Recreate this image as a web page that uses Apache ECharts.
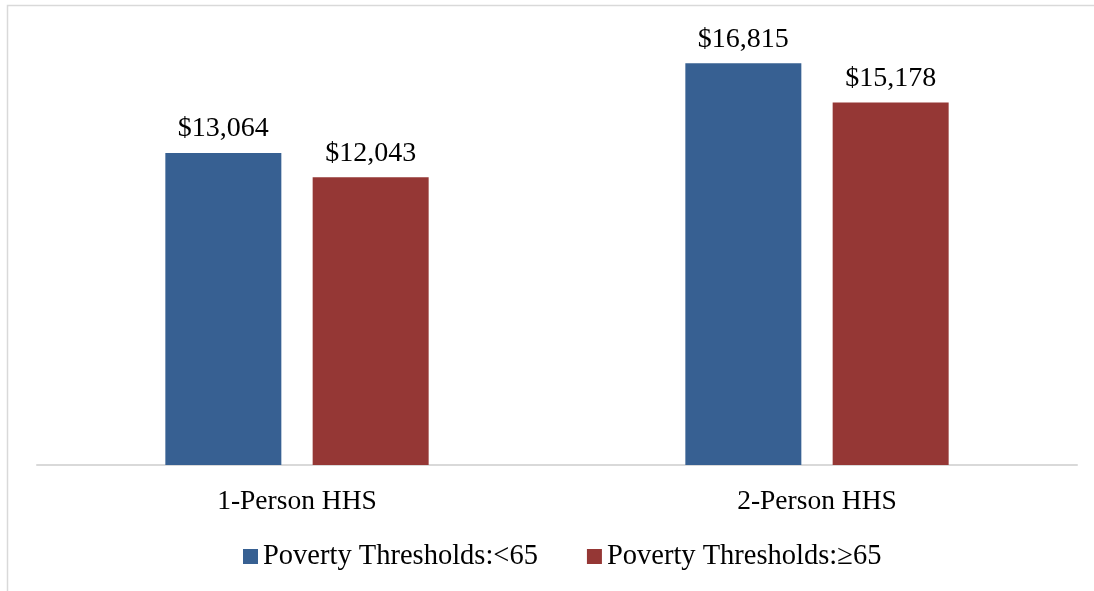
<!DOCTYPE html>
<html><head><meta charset="utf-8">
<script src="https://cdn.jsdelivr.net/npm/echarts@6/dist/echarts.min.js"></script>
<style>html,body{margin:0;padding:0;background:#fff}#c{width:1094px;height:591px}</style>
</head><body><div id="c"></div>
<script>
const categories = ['1-Person HHS', '2-Person HHS'];
const seriesNames = ['Poverty Thresholds:<65', 'Poverty Thresholds:\u226565'];
const under65 = [13064, 16815];
const over65 = [12043, 15178];
const colors = ['#376092', '#953735'];
const FONT = '"Liberation Serif", "DejaVu Serif", serif';
const chart = echarts.init(document.getElementById('c'));
const lbl = {
  show: true, position: 'top', distance: 10, color: '#000', fontFamily: FONT, fontSize: 28,
  formatter: p => '$' + p.value.toLocaleString('en-US')
};
chart.setOption({
  animation: false,
  backgroundColor: '#fff',
  graphic: [{
    type: 'rect', silent: true,
    shape: { x: 7.5, y: 5.5, width: 1200, height: 700 },
    style: { fill: 'none', stroke: '#d9d9d9', lineWidth: 1.5 }
  }],
  grid: { left: 37, right: 17, top: 35, bottom: 126, containLabel: false },
  legend: {
    left: 238, top: 537, icon: 'rect', itemWidth: 15, itemHeight: 15, itemGap: 49,
    textStyle: { fontFamily: FONT, fontSize: 28.5, color: '#000' },
    data: seriesNames
  },
  xAxis: {
    type: 'category', data: categories,
    axisLine: { show: true, lineStyle: { color: '#d9d9d9', width: 2 } },
    axisTick: { show: false },
    axisLabel: { margin: 23, color: '#000', fontFamily: FONT, fontSize: 27.5 }
  },
  yAxis: { type: 'value', min: 0, max: 18000, show: false, splitLine: { show: false } },
  series: [
    { name: seriesNames[0], type: 'bar', data: under65, barWidth: 116, barGap: '27%',
      itemStyle: { color: colors[0] }, label: lbl },
    { name: seriesNames[1], type: 'bar', data: over65, barWidth: 116, barGap: '27%',
      itemStyle: { color: colors[1] }, label: lbl }
  ]
});
</script></body></html>
